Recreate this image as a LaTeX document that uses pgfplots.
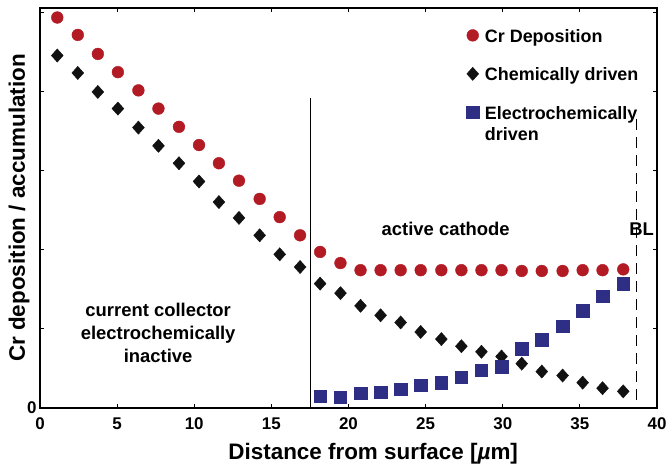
\documentclass[border=0pt]{standalone}
\usepackage{pgfplots}
\pgfplotsset{compat=1.18}
\usepackage{pgfplotstable}
\usepackage{fontspec}
\setmainfont{Liberation Sans}
\definecolor{crred}{RGB}{178,26,36}
\definecolor{elblue}{RGB}{46,46,132}
\definecolor{chblack}{RGB}{17,17,17}
\pgfplotstableread{
x y
1.12 4.93
2.45 4.71
3.75 4.47
5.05 4.24
6.38 4.01
7.68 3.78
9.01 3.55
10.31 3.32
11.60 3.09
12.90 2.87
14.24 2.64
15.54 2.41
16.86 2.18
18.16 1.97
19.48 1.83
20.78 1.74
22.08 1.74
23.38 1.74
24.68 1.74
26.02 1.74
27.32 1.74
28.62 1.74
29.92 1.74
31.23 1.73
32.53 1.73
33.88 1.73
35.18 1.74
36.47 1.74
37.81 1.75
}\crdep
\pgfplotstableread{
x y
1.12 4.45
2.45 4.23
3.75 3.99
5.05 3.78
6.38 3.54
7.68 3.31
9.01 3.09
10.31 2.86
11.60 2.60
12.90 2.40
14.24 2.18
15.54 1.94
16.86 1.78
18.16 1.57
19.48 1.45
20.78 1.29
22.08 1.17
23.38 1.08
24.68 0.96
26.02 0.87
27.32 0.78
28.62 0.71
29.92 0.65
31.23 0.56
32.53 0.46
33.88 0.41
35.18 0.32
36.47 0.25
37.81 0.21
}\chem
\pgfplotstableread{
x y
18.16 0.15
19.48 0.14
20.78 0.19
22.08 0.20
23.38 0.24
24.68 0.29
26.02 0.32
27.32 0.39
28.62 0.48
29.92 0.52
31.23 0.75
32.53 0.86
33.88 1.03
35.18 1.23
36.47 1.41
37.81 1.57
}\elchem
\begin{document}
\begin{tikzpicture}
\begin{axis}[
  width=617bp, height=400bp, scale only axis,
  xmin=0, xmax=40, ymin=0, ymax=5.05,
  xtick={0,5,...,40},
  ytick={0,1,2,3,4,5},
  yticklabels={0,,,,,},
  tick align=inside,
  major tick length=4bp,
  tick style={black, line width=0.8bp},
  axis line style={line width=1.2bp},
  /pgf/number format/assume math mode=true,
  ticklabel style={font=\fontsize{17}{20}\selectfont\bfseries},
  xticklabel style={yshift=-6bp},
  xlabel={Distance from surface [{\itshape\textmu}m]},
  ylabel={Cr deposition / accumulation},
  every axis x label/.style={at={(axis description cs:0.54,-0.115)},anchor=center,font=\fontsize{22.5}{26}\selectfont\bfseries},
  every axis y label/.style={at={(axis description cs:-0.034,0.5)},rotate=90,anchor=center,font=\fontsize{22.5}{26}\selectfont\bfseries},
  clip=false,
  legend style={at={(rel axis cs:0.691,0.9525)}, anchor=north west, draw=none, fill=none,
    font=\fontsize{18}{21}\selectfont\bfseries, row sep=20bp,
    cells={anchor=base west}, inner sep=0pt},
  legend image code/.code={\path (10bp,0bp); \draw[#1] plot coordinates {(0bp,6.8bp)};},
]
\coordinate (SW) at (rel axis cs:0,0);
\coordinate (NE) at (rel axis cs:1,1);
\addplot[only marks, mark=*, mark size=5.9bp, mark options={fill=crred, draw=crred}] table[x=x,y=y]{\crdep};
\addlegendentry{Cr Deposition}
\addplot[only marks, mark=diamond*, mark size=6.6bp, mark options={xscale=1.2, fill=chblack, draw=chblack}] table[x=x,y=y]{\chem};
\addlegendentry{Chemically driven}
\addplot[only marks, mark=square*, mark size=6.2bp, mark options={fill=elblue, draw=elblue}] table[x=x,y=y]{\elchem};
\addlegendentry{\raisebox{0pt}[13bp]{\begin{tabular}[t]{@{}l@{}}Electrochemically\\driven\end{tabular}}}
\addplot[forget plot, black, line width=0.9bp] coordinates {(17.53,0) (17.53,3.92)};
\addplot[forget plot, black, line width=0.9bp, dash pattern=on 11.5bp off 6.5bp] coordinates {(38.64,3.65) (38.64,0.06)};
\node[font=\fontsize{18.5}{22}\selectfont\bfseries] at (axis cs:26.3,2.26) {active cathode};
\node[font=\fontsize{18.5}{22}\selectfont\bfseries] at (axis cs:39.0,2.26) {BL};
\node[font=\fontsize{18.5}{23}\selectfont\bfseries, align=center] at (axis cs:7.66,0.95) {current collector\\electrochemically\\inactive};
\end{axis}
\pgfresetboundingbox
\path ([shift={(-40bp,-60bp)}]SW) rectangle ([shift={(12bp,8bp)}]NE);
\end{tikzpicture}
\end{document}
